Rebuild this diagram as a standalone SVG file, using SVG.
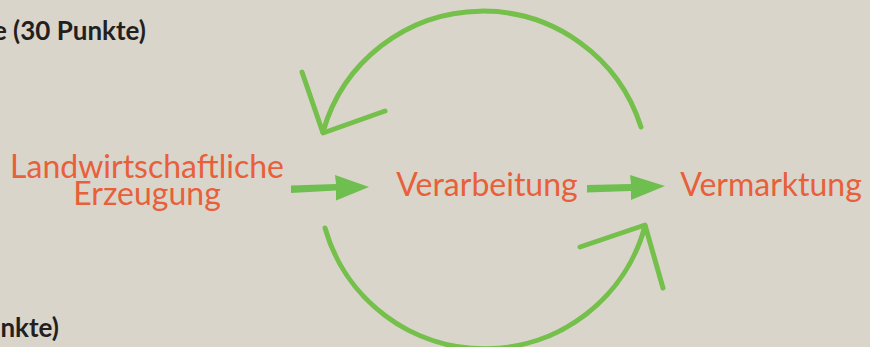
<svg xmlns="http://www.w3.org/2000/svg" width="870" height="347" viewBox="0 0 870 347">
<defs>
<style>
.lbl{font-family:Lato,"Open Sans","Liberation Sans",sans-serif;fill:#e8603a;font-size:32px;text-anchor:middle}
.hdr{font-family:Lato,"Open Sans","Liberation Sans",sans-serif;fill:#231f20;font-size:26px;font-weight:bold;text-anchor:end}
.arc{fill:none;stroke:#75bf4c;stroke-width:5;stroke-linecap:round;stroke-linejoin:round}
.flow{fill:#6fbf50}
</style>
<filter id="soft" x="-5%" y="-5%" width="110%" height="110%"><feGaussianBlur stdDeviation="0.5"/></filter>
</defs>
<rect width="870" height="347" fill="#d9d5cb"/>
<text class="hdr" x="146" y="40">e (30 Punkte)</text>
<text class="hdr" x="59" y="337">nkte)</text>
<g id="connectors">
<g filter="url(#soft)">
<path class="arc" d="M641,127 A166,166 0 0 0 323,132"/>
<path class="arc" d="M302,72 L323,133 L385,111"/>
<path class="arc" d="M325,228 A166,166 0 0 0 645,226"/>
<path class="arc" d="M580,247 L645,225 L663,288"/>
</g>
<path class="flow" d="M291,185.5 L336,184 L335,175 L369,187 L336,200.5 L336,190.5 L291,193 Z"/>
<path class="flow" d="M587,185 L631,184 L630,175 L665,186 L631,200 L631,191 L587,192.5 Z"/>
</g>
<g id="node-erzeugung"><text class="lbl" x="147" y="178">Landwirtschaftliche</text><text class="lbl" x="147" y="205">Erzeugung</text></g>
<g id="node-verarbeitung"><text class="lbl" x="487" y="196">Verarbeitung</text></g>
<g id="node-vermarktung"><text class="lbl" x="771" y="196">Vermarktung</text></g>
</svg>
